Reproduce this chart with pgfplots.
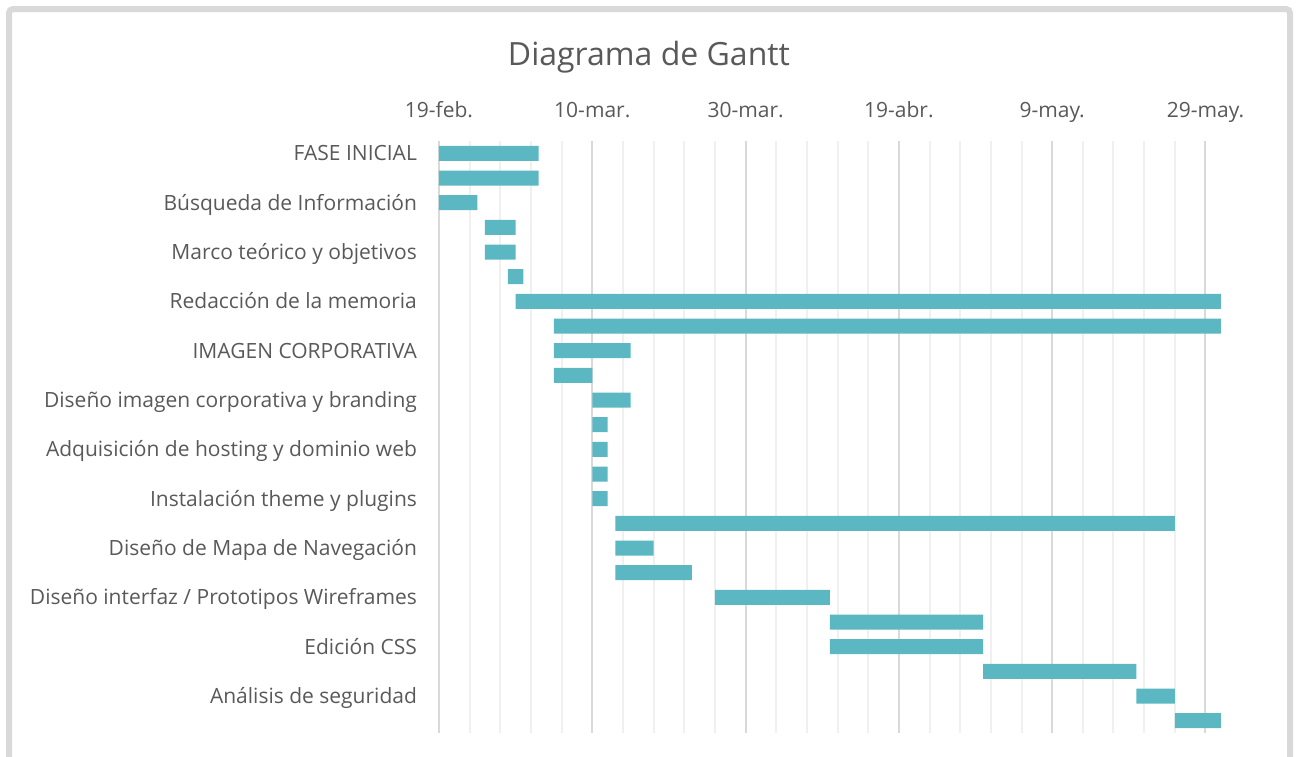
\documentclass[border=0pt]{standalone}
\usepackage{pgfplots}
\usepackage{pgfplotstable}
\pgfplotsset{compat=1.18}
\usepackage{fontspec}
\setmainfont{Open Sans}
\definecolor{barc}{RGB}{91,183,193}
\definecolor{txt}{RGB}{89,89,89}
\definecolor{majg}{RGB}{217,217,217}
\definecolor{ming}{RGB}{240,240,240}
\definecolor{framec}{RGB}{217,217,217}

\pgfplotstableread{
row start dur
1 0 13
2 0 13
3 0 5
4 6 4
5 6 4
6 9 2
7 10 92
8 15 87
9 15 10
10 15 5
11 20 5
12 20 2
13 20 2
14 20 2
15 20 2
16 23 73
17 23 5
18 23 10
19 36 15
20 51 20
21 51 20
22 71 20
23 91 5
24 96 6
}\gantt

\begin{document}
\begin{tikzpicture}
\useasboundingbox (0,0) rectangle (648pt,-378pt);
\draw[framec, line width=3pt, rounded corners=2pt] (4.5pt,-390pt) -- (4.5pt,-4.5pt) -- (645pt,-4.5pt) -- (645pt,-390pt);
\node[txt, font=\fontsize{16}{19}\selectfont] at (324.5pt,-28.5pt) {Diagrama de Gantt};
\begin{axis}[
  at={(219.5pt,-70.5pt)}, anchor=north west, scale only axis,
  width=390.9pt, height=296pt,
  xbar stacked, bar width=7.5pt, y dir=reverse,
  xmin=0, xmax=102, ymin=0.5, ymax=24.5,
  xtick={0,20,...,100},
  xticklabels={19-feb.,10-mar.,30-mar.,19-abr.,9-may.,29-may.},
  minor xtick={4,8,...,96},
  xmajorgrids, xminorgrids,
  major grid style={majg, line width=1pt},
  minor grid style={ming, line width=1pt},
  xticklabel pos=upper,
  ytick={1,3,...,23},
  yticklabels={FASE INICIAL,Búsqueda de Información,Marco teórico y objetivos,Redacción de la memoria,IMAGEN CORPORATIVA,Diseño imagen corporativa y branding,Adquisición de hosting y dominio web,Instalación theme y plugins,Diseño de Mapa de Navegación,Diseño interfaz / Prototipos Wireframes,Edición CSS,Análisis de seguridad},
  axis line style={draw=none},
  major tick length=0pt, minor tick length=0pt,
  tick label style={txt, font=\fontsize{10.5}{12}\selectfont},
  xticklabel style={anchor=base, yshift=12pt},
  yticklabel style={anchor=base east, xshift=-7.5pt, yshift=-3.7pt},
  clip=false,
]
\addplot[draw=none, fill=none] table[x=start,y=row]{\gantt};
\addplot[fill=barc, draw=none] table[x=dur,y=row]{\gantt};
\end{axis}
\end{tikzpicture}
\end{document}
